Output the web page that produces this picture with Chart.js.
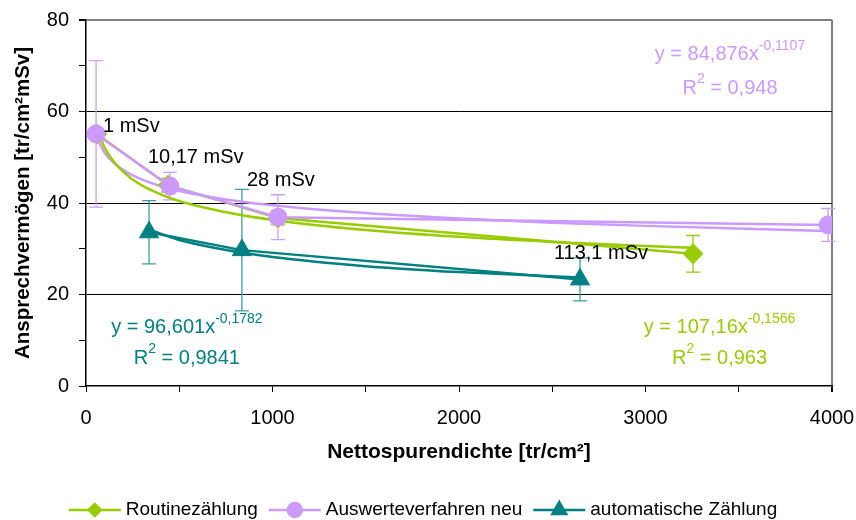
<!DOCTYPE html>
<html>
<head>
<meta charset="utf-8">
<script src="https://cdn.jsdelivr.net/npm/chart.js@4.4.1/dist/chart.umd.min.js"></script>
<style>
  html, body { margin: 0; padding: 0; background: #fff; }
  #wrap { width: 856px; height: 520px; }
</style>
</head>
<body>
<div id="wrap"><canvas id="chart" width="856" height="520"></canvas></div>
<script>
// measured points (x = Nettospurendichte, y = Ansprechvermögen, err = +/- bar)
const routineX = [59, 440, 1029, 3255];
const routineY = [55.1, 43.9, 36.7, 28.9];
const routineErr = [1, 1.5, 1.5, 4];

const neuX = [54, 450, 1029, 3979];
const neuY = [55.1, 43.7, 36.9, 35.2];
const neuErr = [16, 3, 4.9, 3.6];

const autoX = [338, 836, 2649];
const autoY = [33.6, 29.7, 23.3];
const autoErr = [6.9, 13.3, 4.7];

// power trend lines
const trendRoutineX = [59, 100, 200, 400, 700, 1000, 1500, 2000, 2500, 3000, 3255];
const trendRoutineY = [56.5, 52.1, 46.8, 41.9, 38.4, 36.3, 34.1, 32.6, 31.5, 30.6, 30.2];
const trendNeuX = [54, 100, 200, 400, 700, 1000, 1500, 2000, 2500, 3000, 3500, 3979];
const trendNeuY = [54.6, 51.0, 47.2, 43.7, 41.1, 39.5, 37.8, 36.6, 35.7, 35.0, 34.4, 33.9];
const trendAutoX = [338, 500, 700, 1000, 1500, 2000, 2649];
const trendAutoY = [34.2, 31.9, 30.1, 28.2, 26.2, 24.9, 23.7];

const seriesNames = ['Routinezählung', 'Auswerteverfahren neu', 'automatische Zählung'];
const doseLabels = ['1 mSv', '10,17 mSv', '28 mSv', '113,1 mSv'];
const doseLabelX = [91, 332, 863, 2509];
const doseLabelY = [56.8, 50, 45, 28.9];

const GREEN = '#99cc00', PURPLE = '#cc99ff', TEAL = '#008080';
const FONT = '"Liberation Sans", Arial, sans-serif';
Chart.defaults.font.family = FONT;

const pts = (xs, ys) => xs.map((x, i) => ({ x: x, y: ys[i] }));

// equations shown next to the trend lines: [base, exponent, r2, centre x, y line1, y line2, colour]
const equations = [
  ['y = 84,876x', '-0,1107', ' = 0,948', 3453, 72.4, 65.1, PURPLE],
  ['y = 96,601x', '-0,1782', ' = 0,9841', 541, 12.7, 6.1, TEAL],
  ['y = 107,16x', '-0,1566', ' = 0,963', 3397, 12.7, 6.1, GREEN]
];

function drawSup(ctx, base, sup, cx, cy, color) {
  ctx.fillStyle = color;
  ctx.textBaseline = 'middle';
  ctx.font = '20px ' + FONT;
  const wb = ctx.measureText(base).width;
  ctx.font = '14px ' + FONT;
  const ws = ctx.measureText(sup).width;
  const x0 = cx - (wb + ws) / 2;
  ctx.font = '20px ' + FONT;
  ctx.textAlign = 'left';
  ctx.fillText(base, x0, cy);
  ctx.font = '14px ' + FONT;
  ctx.fillText(sup, x0 + wb, cy - 9);
}

const overlay = {
  id: 'overlay',
  beforeDatasetsDraw(chart) {
    const ctx = chart.ctx, xs = chart.scales.x, ys = chart.scales.y;
    const sets = [[routineX, routineY, routineErr, GREEN], [neuX, neuY, neuErr, '#c9a0f5'], [autoX, autoY, autoErr, '#3a9e9e']];
    ctx.save();
    ctx.lineWidth = 1.3;
    sets.forEach(([xa, ya, ea, col]) => {
      ctx.strokeStyle = col;
      xa.forEach((x, i) => {
        const px = xs.getPixelForValue(x);
        const top = ys.getPixelForValue(ya[i] + ea[i]);
        const bot = ys.getPixelForValue(ya[i] - ea[i]);
        ctx.beginPath();
        ctx.moveTo(px, top); ctx.lineTo(px, bot);
        ctx.moveTo(px - 7, top); ctx.lineTo(px + 7, top);
        ctx.moveTo(px - 7, bot); ctx.lineTo(px + 7, bot);
        ctx.stroke();
      });
    });
    ctx.restore();
  },
  afterDraw(chart) {
    const ctx = chart.ctx, xs = chart.scales.x, ys = chart.scales.y, area = chart.chartArea;
    ctx.save();
    // dose labels
    ctx.font = '20px ' + FONT;
    ctx.fillStyle = '#000';
    ctx.textAlign = 'left';
    ctx.textBaseline = 'middle';
    doseLabels.forEach((t, i) => ctx.fillText(t, xs.getPixelForValue(doseLabelX[i]), ys.getPixelForValue(doseLabelY[i])));

    // trend equations
    equations.forEach(([base, exp, r2, ex, y1, y2, col]) => {
      const cx = xs.getPixelForValue(ex);
      drawSup(ctx, base, exp, cx, ys.getPixelForValue(y1), col);
      // R² line
      ctx.font = '20px ' + FONT;
      const wR = ctx.measureText('R').width, wT = ctx.measureText(r2).width;
      ctx.font = '14px ' + FONT;
      const w2 = ctx.measureText('2').width;
      const x0 = cx - (wR + w2 + wT) / 2, py = ys.getPixelForValue(y2);
      ctx.textAlign = 'left';
      ctx.font = '20px ' + FONT;
      ctx.fillText('R', x0, py);
      ctx.fillText(r2, x0 + wR + w2, py);
      ctx.font = '14px ' + FONT;
      ctx.fillText('2', x0 + wR, py - 9);
    });

    // axis titles
    ctx.fillStyle = '#000';
    ctx.font = 'bold 21px ' + FONT;
    ctx.textAlign = 'center';
    ctx.textBaseline = 'middle';
    ctx.fillText('Nettospurendichte [tr/cm²]', (area.left + area.right) / 2, 452);
    ctx.save();
    ctx.translate(23, (area.top + area.bottom) / 2);
    ctx.rotate(-Math.PI / 2);
    ctx.font = 'bold 20.5px ' + FONT;
    ctx.fillText('Ansprechvermögen [tr/cm²mSv]', 0, 0);
    ctx.restore();

    // legend
    const styles = [['rectRot', 6, GREEN], ['circle', 7, PURPLE], ['triangle', 8, TEAL]];
    ctx.font = '19px ' + FONT;
    const widths = seriesNames.map(n => ctx.measureText(n).width);
    const total = widths.reduce((a, b) => a + b, 0) + 3 * 57 + 2 * 11;
    let lx = 423 - total / 2;
    const ly = 510;
    seriesNames.forEach((name, i) => {
      const [ps, r, col] = styles[i];
      ctx.strokeStyle = col;
      ctx.fillStyle = col;
      ctx.lineWidth = 2.5;
      ctx.beginPath();
      ctx.moveTo(lx, ly); ctx.lineTo(lx + 52, ly);
      ctx.stroke();
      Chart.helpers.drawPoint(ctx, { pointStyle: ps, radius: r, borderWidth: 1, rotation: 0 }, lx + 26, ly);
      ctx.fillStyle = '#000';
      ctx.textAlign = 'left';
      ctx.textBaseline = 'middle';
      ctx.fillText(name, lx + 57, ly);
      lx += 57 + widths[i] + 11;
    });
    ctx.restore();
  }
};

const markerSet = (label, xs, ys, color, style, radius, order) => ({
  label: label,
  data: pts(xs, ys),
  borderColor: color,
  backgroundColor: color,
  borderWidth: 2.5,
  pointStyle: style,
  pointRadius: radius,
  pointBorderWidth: 1,
  pointBackgroundColor: color,
  pointBorderColor: color,
  tension: 0,
  order: order
});

const trendSet = (xs, ys, color) => ({
  label: 'trend',
  data: pts(xs, ys),
  borderColor: color,
  borderWidth: 2.5,
  pointRadius: 0,
  cubicInterpolationMode: 'monotone',
  order: 5
});

new Chart(document.getElementById('chart'), {
  type: 'line',
  data: {
    datasets: [
      markerSet(seriesNames[0], routineX, routineY, GREEN, 'rectRot', 10, 1),
      markerSet(seriesNames[1], neuX, neuY, PURPLE, 'circle', 9, 0),
      markerSet(seriesNames[2], autoX, autoY, TEAL, 'triangle', 11, 2),
      trendSet(trendRoutineX, trendRoutineY, GREEN),
      trendSet(trendNeuX, trendNeuY, PURPLE),
      trendSet(trendAutoX, trendAutoY, TEAL)
    ]
  },
  options: {
    responsive: false,
    animation: false,
    layout: { padding: { top: 20, right: 24, left: 0, bottom: 0 } },
    plugins: { legend: { display: false }, tooltip: { enabled: false } },
    scales: {
      x: {
        type: 'linear',
        min: 0, max: 4000,
        afterFit: s => { s.height = 134; s.paddingLeft = 0; s.paddingRight = 0; },
        ticks: {
          stepSize: 500,
          autoSkip: false,
          maxRotation: 0,
          padding: 14,
          color: '#000',
          font: { size: 20 },
          callback: v => (v % 1000 === 0 ? v : '')
        },
        grid: {
          color: c => (c.tick && c.tick.value === 4000 ? '#808080' : 'rgba(0,0,0,0)'),
          lineWidth: c => (c.tick && c.tick.value === 4000 ? 2 : 1),
          tickColor: '#000',
          tickLength: 6,
          drawTicks: true
        },
        border: { color: '#000', width: 1.5 }
      },
      y: {
        min: 0, max: 80,
        afterFit: s => { s.width = 86; s.paddingTop = 0; s.paddingBottom = 0; },
        ticks: {
          stepSize: 10,
          autoSkip: false,
          padding: 10,
          color: '#000',
          font: { size: 20 },
          callback: v => (v % 20 === 0 ? v : '')
        },
        grid: {
          color: c => {
            const v = c.tick ? c.tick.value : 0;
            if (v === 80) return '#808080';
            return (v % 20 === 0 && v > 0) ? '#000' : 'rgba(0,0,0,0)';
          },
          lineWidth: c => (c.tick && c.tick.value === 80 ? 2 : 1),
          tickColor: '#000',
          tickLength: 7,
          drawTicks: true
        },
        border: { color: '#000', width: 1.5 }
      }
    }
  },
  plugins: [overlay]
});
</script>
</body>
</html>
